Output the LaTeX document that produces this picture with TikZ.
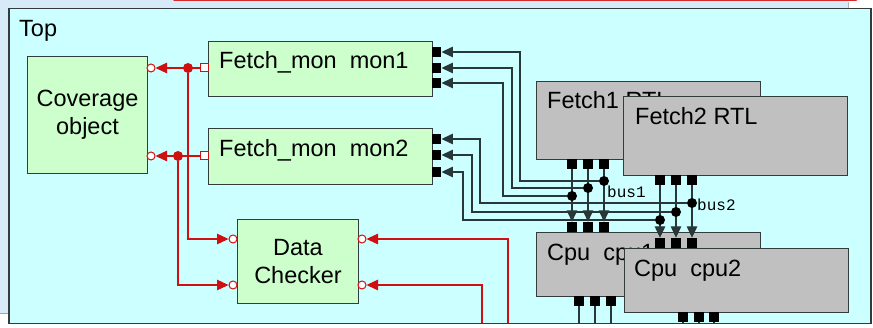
\documentclass[tikz,border=0pt]{standalone}
\usepackage{fontspec}
\setmainfont{Liberation Sans}
\newfontfamily\busfont{Liberation Mono}
\usetikzlibrary{arrows.meta, positioning, calc}
\definecolor{TopCyan}{RGB}{204,255,255}
\definecolor{MonGreen}{RGB}{204,255,204}
\definecolor{RtlGray}{RGB}{192,192,192}
\definecolor{WireRed}{RGB}{208,16,16}
\definecolor{WireDark}{RGB}{40,56,56}
\definecolor{EdgeDark}{RGB}{51,60,60}
\definecolor{ChromeBlue}{RGB}{214,234,248}

\begin{document}
\begin{tikzpicture}[x=1pt, y=-1pt,
  topframe/.style={
    rectangle, draw=EdgeDark, fill=TopCyan, line width=1.5pt,
    anchor=north west, inner sep=0pt
  },
  blockbox/.style={
    rectangle, draw=EdgeDark, fill=#1, line width=1pt,
    anchor=north west, inner sep=0pt, align=center,
    font=\fontsize{23.5}{28}\selectfont
  },
  boxtitle/.style={anchor=base west, inner sep=0pt,
    font=\fontsize{23.5}{28}\selectfont},
  buslabel/.style={anchor=base west, inner sep=0pt,
    font=\busfont\fontsize{16}{18}\selectfont},
  bport/.style={rectangle, fill=black, minimum width=9.5pt,
    minimum height=10pt, inner sep=0pt},
  oport/.style={rectangle, draw=WireRed, fill=white, line width=1pt,
    minimum size=8pt, inner sep=0pt},
  iport/.style={circle, draw=WireRed, fill=white, line width=1pt,
    minimum size=8pt, inner sep=0pt},
  busdot/.style={circle, fill=black, minimum size=10pt, inner sep=0pt},
  reddot/.style={circle, fill=WireRed, minimum size=10pt, inner sep=0pt},
  wire/.style={draw=WireDark, line width=1.3pt},
  rwire/.style={draw=WireRed, line width=1.3pt},
  intip/.style={-{Triangle[length=11.5pt, width=10.5pt]}}
]
\useasboundingbox (0,0) rectangle (873,328);

%% --- screen surroundings ---
\fill[white] (0,0) rectangle (873,328);
\fill[ChromeBlue] (0,0) rectangle (848,8);
\fill[ChromeBlue] (0,0) rectangle (8,313);
\draw[gray!70, line width=1pt] (0,313.5) -- (8,313.5);
\draw[gray!60, line width=1pt] (848,2) -- (848,8);
\draw[WireRed!90, line width=2pt, line cap=round] (174,0) -- (856,0);

%% --- Top frame ---
\node[topframe, minimum width=862pt, minimum height=315pt] (top) at (8,8) {};
\node[boxtitle] (toplabel) at (19,37) {Top};

%% --- Coverage / monitors / checker ---
\node[blockbox=MonGreen, minimum width=120pt, minimum height=117pt]
  (cov) at (27,56) {Coverage\\object};
\node[blockbox=MonGreen, minimum width=224pt, minimum height=55pt]
  (mon1) at (208,41) {};
\node[boxtitle] (mon1title) at (219,69) {Fetch\_mon\ \ mon1};
\node[blockbox=MonGreen, minimum width=224pt, minimum height=56pt]
  (mon2) at (208,128) {};
\node[boxtitle] (mon2title) at (219,157) {Fetch\_mon\ \ mon2};
\node[blockbox=MonGreen, minimum width=121pt, minimum height=84pt]
  (dc) at (237,219) {Data\\Checker};

%% --- RTL blocks ---
\node[blockbox=RtlGray, minimum width=224pt, minimum height=78pt]
  (fetch1) at (536,81) {};
\node[boxtitle] (fetch1title) at (547,109) {Fetch1 RTL};
\node[bport] (f1p1) at (572,164) {};
\node[bport] (f1p2) at (588,164) {};
\node[bport] (f1p3) at (604,164) {};

\node[blockbox=RtlGray, minimum width=224pt, minimum height=79pt]
  (fetch2) at (623,96) {};
\node[boxtitle] (fetch2title) at (635,125) {Fetch2 RTL};
\node[bport] (f2p1) at (660,180) {};
\node[bport] (f2p2) at (676,180) {};
\node[bport] (f2p3) at (692,180) {};

\node[blockbox=RtlGray, minimum width=224pt, minimum height=64pt]
  (cpu1) at (536,232) {};
\node[boxtitle] (cpu1title) at (547,261) {Cpu\ \ cpu1};
\node[bport] (c1t1) at (572,227) {};
\node[bport] (c1t2) at (588,227) {};
\node[bport] (c1t3) at (604,227) {};
\node[bport] (c1b1) at (579,301) {};
\node[bport] (c1b2) at (595,301) {};
\node[bport] (c1b3) at (611,301) {};

\node[blockbox=RtlGray, minimum width=224pt, minimum height=64pt]
  (cpu2) at (624,248) {};
\node[boxtitle] (cpu2title) at (634,277) {Cpu\ \ cpu2};
\node[bport] (c2t1) at (660,243) {};
\node[bport] (c2t2) at (676,243) {};
\node[bport] (c2t3) at (692,243) {};
\node[bport] (c2b1) at (683,317) {};
\node[bport] (c2b2) at (699,317) {};
\node[bport] (c2b3) at (714,317) {};

%% --- monitor ports ---
\node[bport] (m1p1) at (436.5,52) {};
\node[bport] (m1p2) at (436.5,68) {};
\node[bport] (m1p3) at (436.5,83) {};
\node[bport] (m2p1) at (436.5,139) {};
\node[bport] (m2p2) at (436.5,155) {};
\node[bport] (m2p3) at (436.5,172) {};
\node[oport] (mon1out) at (204,68) {};
\node[oport] (mon2out) at (204,156) {};
\node[iport] (covin1) at (151,68) {};
\node[iport] (covin2) at (151,156) {};
\node[iport] (dcin1) at (233,239) {};
\node[iport] (dcin2) at (233,285) {};
\node[iport] (dcr1) at (362,239) {};
\node[iport] (dcr2) at (362,285) {};

%% --- fetch -> cpu ---
\draw[wire, intip] (f1p1.south) -- (c1t1.north);
\draw[wire, intip] (f1p2.south) -- (c1t2.north);
\draw[wire, intip] (f1p3.south) -- (c1t3.north);
\draw[wire, intip] (f2p1.south) -- (c2t1.north);
\draw[wire, intip] (f2p2.south) -- (c2t2.north);
\draw[wire, intip] (f2p3.south) -- (c2t3.north);

%% cpu outputs leave the frame
\draw[wire] (c1b1.south) -- (c1b1.south |- top.south);
\draw[wire] (c1b2.south) -- (c1b2.south |- top.south);
\draw[wire] (c1b3.south) -- (c1b3.south |- top.south);
\draw[wire] (c2b1.south) -- (c2b1.south |- top.south);
\draw[wire] (c2b2.south) -- (c2b2.south |- top.south);
\draw[wire] (c2b3.south) -- (c2b3.south |- top.south);

%% --- bus taps ---
\node[busdot] (b1d1) at (604,181) {};
\node[busdot] (b1d2) at (588,188) {};
\node[busdot] (b1d3) at (572,196) {};
\node[busdot] (b2d1) at (692,203) {};
\node[busdot] (b2d2) at (676,212) {};
\node[busdot] (b2d3) at (660,220) {};
\node[buslabel] (bus1label) at (607,198) {bus1};
\node[buslabel] (bus2label) at (697,211) {bus2};

\draw[wire, intip] (b1d1) -| (520,52) -- (m1p1.east);
\draw[wire, intip] (b1d2) -| (512,68) -- (m1p2.east);
\draw[wire, intip] (b1d3) -| (503,83) -- (m1p3.east);
\draw[wire, intip] (b2d1) -| (480,139) -- (m2p1.east);
\draw[wire, intip] (b2d2) -| (472,155) -- (m2p2.east);
\draw[wire, intip] (b2d3) -| (463,172) -- (m2p3.east);

%% --- red analysis connections ---
\draw[rwire, intip] (mon1out.west) -- (covin1.east);
\draw[rwire, intip] (mon2out.west) -- (covin2.east);
\node[reddot] (j1) at (188,68) {};
\node[reddot] (j2) at (178,156) {};
\draw[rwire, intip] (j1) |- (dcin1.west);
\draw[rwire, intip] (j2) |- (dcin2.west);

\coordinate (rin1) at (508,323);
\coordinate (rin2) at (482,323);
\draw[rwire, intip] (rin1) |- (dcr1.east);
\draw[rwire, intip] (rin2) |- (dcr2.east);

\end{tikzpicture}
\end{document}
